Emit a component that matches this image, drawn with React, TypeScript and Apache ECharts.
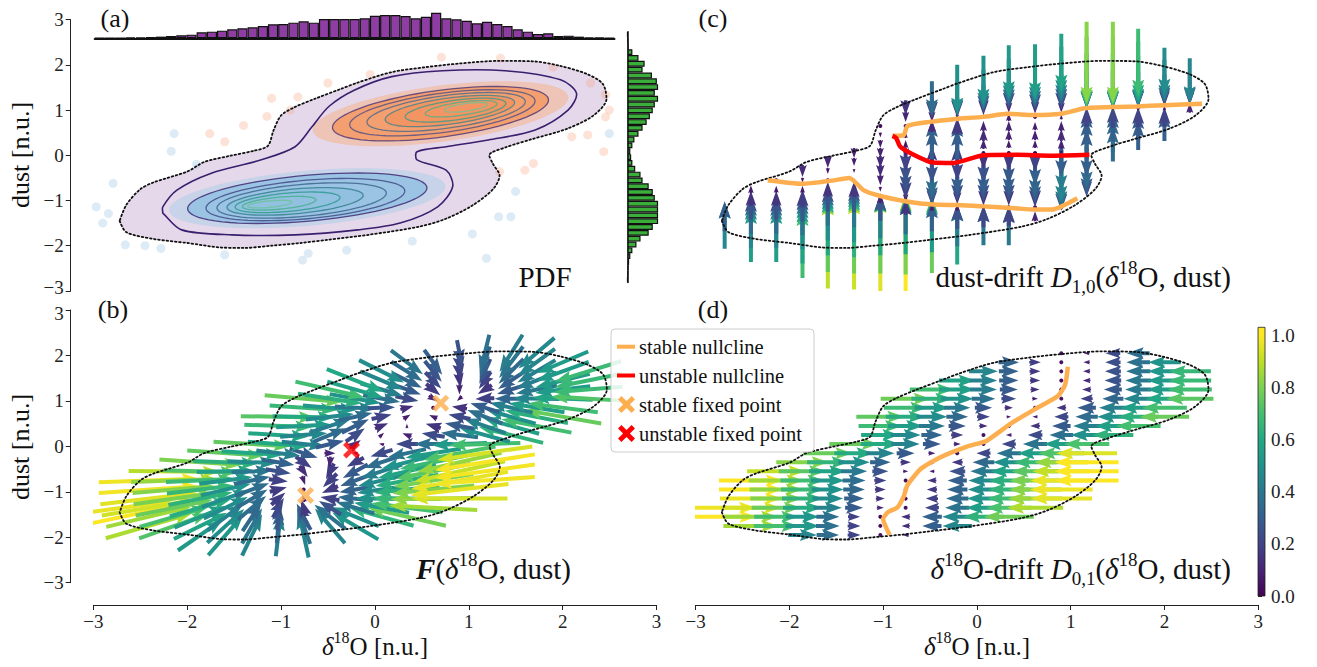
import React, { useEffect, useRef } from "react";
import * as echarts from "echarts";

const _ = null;
const FONT = "'Liberation Serif', 'DejaVu Serif', serif";

// ---------- grid of the drift field ----------
const X_COLS = [-2.69, -2.41, -2.14, -1.86, -1.59, -1.31, -1.03, -0.76, -0.48, -0.21, 0.07, 0.34, 0.62, 0.9, 1.17, 1.45, 1.72, 2.0, 2.27];
const Y_ROWS = [-1.95, -1.75, -1.55, -1.35, -1.15, -0.95, -0.75, -0.55, -0.35, -0.15, 0.05, 0.25, 0.45, 0.65, 0.85, 1.05, 1.25, 1.45, 1.65, 1.85, 2.05];

// delta18O drift D_{0,1} (normalised), one row per Y_ROWS entry
const U_ROWS = [
  [_, _, _, .45, .35, .2, .05, -.1, _, _, _, _, _, _, _, _, _, _, _],
  [_, .86, .7, .53, .37, .2, .03, -.13, -.3, -.46, _, _, _, _, _, _, _, _, _],
  [1, .85, .69, .52, .36, .19, .02, -.14, -.31, -.47, -.64, -.78, _, _, _, _, _, _, _],
  [.98, .94, .77, .61, .44, .28, .11, -.05, -.22, -.38, -.55, -.71, -.88, _, _, _, _, _, _],
  [_, .97, .81, .64, .48, .31, .14, -.02, -.19, -.35, -.52, -.68, -.85, -.96, _, _, _, _, _],
  [_, 1, .83, .67, .5, .34, .17, .01, -.16, -.32, -.49, -.65, -.82, -.98, _, _, _, _, _],
  [_, 1, .86, .69, .53, .36, .19, .03, -.14, -.3, -.47, -.63, -.8, -.97, -1, _, _, _, _],
  [_, _, .91, .74, .58, .41, .25, .08, -.08, -.25, -.41, -.58, -.74, -.91, -1, _, _, _, _],
  [_, _, _, .82, .65, .49, .32, .16, -.01, -.17, -.34, -.5, -.67, -.84, -1, _, _, _, _],
  [_, _, _, _, .77, .61, .44, .28, .11, -.05, -.22, -.38, -.55, -.72, -.95, _, _, _, _],
  [_, _, _, _, _, .77, .61, .44, .28, .11, -.05, -.22, -.38, -.55, -.71, _, _, _, _],
  [_, _, _, _, _, _, .6, .47, .33, .19, .05, -.09, -.23, -.37, -.5, -.64, _, _, _],
  [_, _, _, _, _, _, .68, .55, .41, .27, .13, 0, -.15, -.29, -.42, -.56, -.7, _, _],
  [_, _, _, _, _, _, .75, .62, .48, .34, .2, .07, -.08, -.22, -.35, -.49, -.63, -.77, _],
  [_, _, _, _, _, _, _, .68, .54, .41, .27, .13, -.01, -.15, -.29, -.43, -.56, -.7, _],
  [_, _, _, _, _, _, _, .78, .64, .51, .37, .23, .09, -.05, -.19, -.33, -.46, -.6, -.74],
  [_, _, _, _, _, _, _, _, .69, .56, .42, .28, .14, 0, -.14, -.28, -.41, -.55, -.69],
  [_, _, _, _, _, _, _, _, _, .57, .43, .3, .16, .02, -.12, -.26, -.4, -.54, -.67],
  [_, _, _, _, _, _, _, _, _, _, .45, .31, .17, .03, -.11, -.25, -.38, -.52, -.66],
  [_, _, _, _, _, _, _, _, _, _, _, .32, .18, .04, -.1, -.24, -.37, -.51, _],
  [_, _, _, _, _, _, _, _, _, _, _, _, _, .05, -.09, -.23, -.36, _, _],
];

// dust drift D_{1,0} (normalised)
const V_ROWS = [
  [_, _, _, .69, .9, .92, .95, 1, _, _, _, _, _, _, _, _, _, _, _],
  [_, .55, .55, .58, .75, .78, .78, .8, .77, .6, _, _, _, _, _, _, _, _, _],
  [.47, .45, .45, .48, .6, .64, .6, .58, .54, .42, .4, .4, _, _, _, _, _, _, _],
  [.3, .35, .35, .38, .48, .52, .44, .36, .3, .25, .22, .2, .1, _, _, _, _, _, _],
  [_, .25, .25, .28, .37, .4, .27, .15, .07, .07, .02, .02, -.03, 0, _, _, _, _, _],
  [_, .15, .15, .18, .26, .28, .1, -.08, -.15, -.12, -.15, -.15, -.18, -.25, _, _, _, _, _],
  [_, .08, .07, .07, .15, .16, -.05, -.2, -.3, -.25, -.25, -.25, -.28, -.38, -.15, _, _, _, _],
  [_, _, -.02, -.05, .03, .04, -.1, -.25, -.35, -.3, -.3, -.3, -.33, -.45, -.3, _, _, _, _],
  [_, _, _, -.12, -.06, -.04, -.12, -.25, -.25, -.2, -.25, -.28, -.3, -.42, -.35, _, _, _, _],
  [_, _, _, _, -.12, -.08, -.12, -.2, 0, .02, -.15, -.18, -.2, -.3, -.3, _, _, _, _],
  [_, _, _, _, _, -.1, -.1, -.1, .15, .18, .03, 0, 0, -.05, -.05, _, _, _, _],
  [_, _, _, _, _, _, -.08, .08, .3, .3, .1, .08, .08, .1, .3, .35, _, _, _],
  [_, _, _, _, _, _, -.05, .06, .3, .3, .12, .1, .1, .12, .32, .35, .3, _, _],
  [_, _, _, _, _, _, -.03, -.03, .12, .17, .1, .1, .08, .1, .3, .3, .28, .3, _],
  [_, _, _, _, _, _, _, -.1, -.1, -.05, .02, .08, 0, .05, .2, .22, .2, .2, _],
  [_, _, _, _, _, _, _, -.15, -.22, -.2, -.15, -.1, -.12, -.1, -.02, 0, .02, .05, .1],
  [_, _, _, _, _, _, _, _, -.35, -.35, -.28, -.22, -.25, -.22, -.2, -.2, -.18, -.15, -.12],
  [_, _, _, _, _, _, _, _, _, -.5, -.4, -.33, -.36, -.32, -.38, -.38, -.35, -.3, -.3],
  [_, _, _, _, _, _, _, _, _, _, -.5, -.43, -.46, -.42, -.55, -.55, -.5, -.42, -.45],
  [_, _, _, _, _, _, _, _, _, _, _, -.53, -.55, -.5, -.7, -.7, -.6, -.48, _],
  [_, _, _, _, _, _, _, _, _, _, _, _, _, -.58, -.82, -.82, -.68, _, _],
];
// relative weight of the dust component in the combined field F
const B_V_WEIGHT = 0.45;

// ---------- density outline, contours ----------
const MASK_OUTLINE = [
  [-2.72, -1.45], [-2.65, -1.7], [-2.36, -1.85], [-2.0, -1.94], [-1.64, -2.04], [-1.4, -2.05], [-1.1, -2.0],
  [-0.79, -1.94], [-0.5, -1.87], [-0.07, -1.76], [0.47, -1.58], [0.75, -1.41], [1.04, -1.11], [1.26, -0.75],
  [1.33, -0.45], [1.26, -0.19], [1.22, 0.0], [1.4, 0.18], [1.68, 0.36], [2.04, 0.58], [2.33, 0.88], [2.47, 1.25],
  [2.43, 1.58], [2.26, 1.8], [1.97, 1.98], [1.68, 2.08], [1.33, 2.09], [0.9, 2.03], [0.54, 1.95], [0.18, 1.84],
  [-0.18, 1.61], [-0.36, 1.47], [-0.64, 1.25], [-0.86, 1.06], [-1.0, 0.88], [-1.08, 0.55], [-1.14, 0.21],
  [-1.29, 0.1], [-1.54, -0.01], [-1.82, -0.15], [-2.0, -0.36], [-2.36, -0.6], [-2.5, -0.75], [-2.65, -1.1], [-2.72, -1.45],
];
const PEANUT = [
  [-2.26, -1.28], [-2.06, -1.65], [-1.52, -1.76], [-0.85, -1.76], [-0.18, -1.65], [0.27, -1.5], [0.67, -1.14],
  [0.83, -0.69], [0.76, -0.33], [0.45, -0.1], [0.45, 0.08], [0.76, 0.19], [1.21, 0.34], [1.71, 0.56], [2.06, 1.0],
  [2.15, 1.37], [1.98, 1.67], [1.39, 1.87], [0.72, 1.87], [0.18, 1.74], [-0.22, 1.44], [-0.49, 1.08], [-0.67, 0.63],
  [-0.85, 0.19], [-1.21, -0.1], [-1.75, -0.4], [-2.11, -0.77], [-2.26, -1.14], [-2.26, -1.28],
];
// contour levels (outer -> inner): centres, semi-axes, tilt (degrees, data space)
const GS_CX = [-0.72, -0.74, -0.78, -0.85, -0.93, -1.02, -1.12];
const GS_CY = [-0.95, -0.98, -1.0, -1.02, -1.04, -1.06, -1.08];
const GS_A = [1.3, 1.08, 0.92, 0.74, 0.57, 0.4, 0.24];
const GS_B = [0.5, 0.42, 0.35, 0.27, 0.2, 0.13, 0.07];
const GS_TILT = 12;
const GI_CX = [0.7, 0.72, 0.76, 0.8, 0.86, 0.92, 0.97];
const GI_CY = [0.92, 0.94, 0.96, 0.98, 1.0, 1.03, 1.06];
const GI_A = [1.2, 1.03, 0.88, 0.72, 0.56, 0.4, 0.24];
const GI_B = [0.5, 0.42, 0.35, 0.28, 0.21, 0.14, 0.08];
const GI_TILT = 18;
const LEVEL_COLORS = ["#3e2c74", "#414a88", "#3d668d", "#35808e", "#2f9a8b", "#45b08a", "#6cc39a"];

const GI_POINTS = [
  [-1.1, 1.26], [-0.82, 1.29], [-1.15, 0.86], [-1.4, 0.66], [-1.76, 0.48], [-0.05, 1.79], [0.71, 2.17], [1.34, 2.15],
  [2.46, 1.34], [2.5, 1.0], [2.46, 0.85], [2.27, 0.45], [2.1, 0.41], [1.6, -0.33], [1.33, -0.36], [2.44, 0.08],
  [1.69, -0.18], [-1.6, 0.3], [-0.5, 1.6], [1.9, 1.95], [2.3, 1.6], [-0.9, 1.0],
];
const GS_POINTS = [
  [2.5, 0.48], [1.45, -1.36], [1.32, -1.36], [1.04, -1.74], [1.19, -2.28], [-0.77, -2.32], [-0.71, -2.17],
  [-2.66, -1.98], [-2.84, -1.29], [-2.97, -1.14], [-2.79, -0.62], [-2.45, -2.0], [-2.28, -2.06], [-2.14, 0.48],
  [-2.17, 0.09], [-1.9, -0.2], [-0.3, -2.1], [0.4, -1.9], [-2.9, -1.5], [-1.6, -2.2], [1.5, -0.8],
];

// marginal histograms (bar heights, left->right and top->bottom)
const TOP_HIST = [1, 1, 1, 2, 3, 4, 5, 7, 9, 11, 18, 20, 23, 27, 30, 33, 37, 42, 43, 47, 51, 47, 58, 58, 58, 58, 60, 68, 70, 70, 67, 60, 65, 77, 60, 57, 53, 45, 50, 43, 37, 27, 20, 13, 15, 7, 8, 5, 3, 2, 1];
const RIGHT_HIST = [0, 1, 3, 12, 27, 42, 37, 60, 72, 75, 67, 75, 67, 62, 55, 47, 37, 27, 17, 12, 7, 9, 12, 19, 32, 37, 52, 62, 67, 75, 75, 75, 75, 62, 52, 32, 22, 12, 7, 4, 2, 1, 0];

// nullclines
const NULL_D_STABLE = [[-0.93, -1.95], [-1.0, -1.6], [-0.95, -1.45], [-0.85, -1.35], [-0.78, -1.1], [-0.74, -0.85], [-0.6, -0.5], [-0.4, -0.25], [-0.1, 0.0], [0.1, 0.12], [0.36, 0.5], [0.62, 0.82], [0.86, 1.1], [0.94, 1.35], [0.97, 1.75]];
const NULL_C_UPPER = [[-0.9, 0.43], [-0.78, 0.45], [-0.74, 0.65], [-0.5, 0.74], [-0.25, 0.8], [0.07, 0.85], [0.33, 0.92], [0.6, 0.89], [0.9, 0.92], [1.15, 1.04], [1.5, 1.07], [1.7, 1.08], [2.0, 1.11], [2.4, 1.14]];
const NULL_C_UNSTABLE = [[-0.9, 0.43], [-0.86, 0.38], [-0.82, 0.2], [-0.68, 0.02], [-0.47, -0.16], [-0.25, -0.17], [0.07, 0.0], [0.43, 0.01], [0.79, -0.01], [1.2, 0.01]];
const NULL_C_LOWER = [[-2.23, -0.55], [-1.86, -0.63], [-1.55, -0.56], [-1.36, -0.5], [-1.21, -0.77], [-1.03, -0.9], [-0.75, -1.02], [-0.46, -1.09], [-0.2, -1.1], [0.07, -1.13], [0.4, -1.17], [0.61, -1.2], [0.8, -1.2], [1.07, -0.95]];
const FIXED_STABLE = [[-0.74, -1.08], [0.7, 0.95]];
const FIXED_UNSTABLE = [[-0.25, -0.08]];
const CBAR_TICKS = [0, 0.2, 0.4, 0.6, 0.8, 1.0];
const CBAR_MAX = 1.03;

const ORANGE = "#fdae4e";
const RED = "#ff0000";
const VIRIDIS = ["#440154", "#482475", "#414487", "#355f8d", "#2a788e", "#21918c", "#22a884", "#44bf70", "#7ad151", "#bddf26", "#fde725"];

function hexToRgb(h: string) {
  return [parseInt(h.slice(1, 3), 16), parseInt(h.slice(3, 5), 16), parseInt(h.slice(5, 7), 16)];
}
function viridis(t: number) {
  t = Math.max(0, Math.min(1, t));
  const f = t * 10;
  const i = Math.min(9, Math.floor(f));
  const r = f - i;
  const a = hexToRgb(VIRIDIS[i]);
  const b = hexToRgb(VIRIDIS[i + 1]);
  const c = a.map((v, k) => Math.round(v + (b[k] - v) * r));
  return `rgb(${c[0]},${c[1]},${c[2]})`;
}

type ArrowStyle = { w: number; hl: number; hal: number; hw: number };
function makeArrowRender(scale: number, st: ArrowStyle) {
  return (_p: any, api: any) => {
    const x = api.value(0), y = api.value(1), u = api.value(2), v = api.value(3), m = api.value(4);
    const c = api.coord([x, y]);
    const color = viridis(m);
    const L = Math.hypot(u, v) * scale;
    const { w, hl, hal, hw } = st;
    if (L < w) {
      return { type: "circle", shape: { cx: c[0], cy: c[1], r: w / 2 }, style: { fill: color } };
    }
    let pts: number[][];
    if (L < hl) {
      const s = L / hl;
      pts = [[0, -w / 2], [hl - hal, -w / 2], [0, -hw / 2], [hl, 0], [0, hw / 2], [hl - hal, w / 2], [0, w / 2]].map((p) => [p[0] * s, p[1] * s]);
    } else {
      pts = [[0, -w / 2], [L - hal, -w / 2], [L - hl, -hw / 2], [L, 0], [L - hl, hw / 2], [L - hal, w / 2], [0, w / 2]];
    }
    const ang = Math.atan2(-v, u);
    const cs = Math.cos(ang), sn = Math.sin(ang);
    const out = pts.map(([px, py]) => {
      const qx = px - L / 2;
      return [c[0] + qx * cs - py * sn, c[1] + qx * sn + py * cs];
    });
    return { type: "polygon", shape: { points: out }, style: { fill: color } };
  };
}

function fieldItems(kind: "b" | "c" | "d") {
  const items: number[][] = [];
  let fmax = 0;
  Y_ROWS.forEach((_y, j) => X_COLS.forEach((_x, i) => {
    const u = U_ROWS[j][i], v = V_ROWS[j][i];
    if (u == null || v == null) return;
    fmax = Math.max(fmax, Math.hypot(u, v * B_V_WEIGHT));
  }));
  Y_ROWS.forEach((y, j) => X_COLS.forEach((x, i) => {
    const u = U_ROWS[j][i], v = V_ROWS[j][i];
    if (u == null || v == null) return;
    if (kind === "c") items.push([x, y, 0, v, Math.abs(v)]);
    else if (kind === "d") items.push([x, y, u, 0, Math.abs(u)]);
    else {
      const vv = v * B_V_WEIGHT;
      items.push([x, y, u, vv, Math.hypot(u, vv) / fmax]);
    }
  }));
  return items;
}

function ellipsePts(api: any, cx: number, cy: number, a: number, b: number, tilt: number) {
  const th = (tilt * Math.PI) / 180;
  const pts: number[][] = [];
  for (let k = 0; k < 72; k++) {
    const t = (k / 72) * 2 * Math.PI;
    const ex = a * Math.cos(t), ey = b * Math.sin(t);
    pts.push(api.coord([cx + ex * Math.cos(th) - ey * Math.sin(th), cy + ex * Math.sin(th) + ey * Math.cos(th)]));
  }
  return pts;
}

const tickFmt = (v: number) => (v < 0 ? "\u2212" + Math.abs(v) : String(v));
const TICK_SIZE = 19;
const tickBase = { fontFamily: FONT, fontSize: TICK_SIZE, color: "#222" };
// "up"/"down" nudge the two labels that sit next to each other between panels (a) and (b)
const tickRich = {
  t: tickBase,
  up: { ...tickBase, padding: [0, 0, 7, 0] },
  down: { ...tickBase, padding: [7, 0, 0, 0] },
};

function richStyles(size: number) {
  const sm = Math.round(size * 0.64);
  const base = { fontFamily: FONT, fill: "#111", color: "#111" };
  return {
    t: { ...base, fontSize: size, verticalAlign: "middle", lineHeight: size * 1.3 },
    i: { ...base, fontSize: size, fontStyle: "italic", verticalAlign: "middle", lineHeight: size * 1.3 },
    bi: { ...base, fontSize: size, fontStyle: "italic", fontWeight: "bold", verticalAlign: "middle", lineHeight: size * 1.3 },
    sup: { ...base, fontSize: sm, verticalAlign: "top", lineHeight: sm },
    sub: { ...base, fontSize: sm, verticalAlign: "bottom", lineHeight: sm },
  };
}
function richText(text: string, x: number, y: number, size: number, align: string, rotation = 0, z = 1) {
  return {
    type: "text",
    x, y, rotation, z,
    silent: true,
    style: {
      text, rich: richStyles(size), align, textAlign: align, verticalAlign: "middle", textVerticalAlign: "middle",
      font: `${size}px ${FONT}`, fontFamily: FONT, fontSize: size, fill: "#111",
    },
  };
}
function plainText(text: string, x: number, y: number, size: number, align = "center", z = 1) {
  return richText(`{t|${text}}`, x, y, size, align, 0, z);
}
function crossPts(cx: number, cy: number, s: number) {
  const k = s / 10;
  const base = [[2, 0], [5, 3], [8, 0], [10, 2], [7, 5], [10, 8], [8, 10], [5, 7], [2, 10], [0, 8], [3, 5], [0, 2]];
  return base.map(([px, py]) => [cx + (px - 5) * k, cy + (py - 5) * k]);
}
const X_SYMBOL = "path://M2,0 L5,3 L8,0 L10,2 L7,5 L10,8 L8,10 L5,7 L2,10 L0,8 L3,5 L0,2 Z";

function buildOption() {
  const grids = [
    { left: 93.4, top: 19.7, width: 522.5, height: 271.2 },
    { left: 94.7, top: 12.7, width: 519.8, height: 25.6 },
    { left: 627.5, top: 31.7, width: 31, height: 250.7 },
    { left: 93.4, top: 310, width: 563.2, height: 272.7 },
    { left: 695.6, top: 19.7, width: 562.6, height: 271.2 },
    { left: 695.6, top: 310, width: 562.6, height: 272.7 },
    { left: 1258, top: 327.3, width: 7, height: 268.7 },
  ].map((g) => ({ ...g, containLabel: false, outerBoundsMode: "none", show: false }));

  const hidden = { show: false };
  const axisLabel = (margin: number, fmt: (v: number) => string, extra: any = {}) => ({
    show: true, margin, fontFamily: FONT, fontSize: TICK_SIZE, color: "#222",
    formatter: fmt, rich: tickRich, ...extra,
  });
  const visX = (gi: number) => ({
    type: "value", gridIndex: gi, min: -3, max: 3, interval: 1, offset: 22.3,
    axisLine: { show: true, onZero: false, lineStyle: { color: "#222", width: 1 } },
    axisTick: { show: true, length: 5, lineStyle: { color: "#222" } },
    axisLabel: axisLabel(7, (v: number) => `{t|${tickFmt(v)}}`),
    splitLine: hidden,
  });
  const visY = (gi: number, nudge: "up" | "down", at: number) => ({
    type: "value", gridIndex: gi, min: -3, max: 3, interval: 1, offset: 22.7,
    axisLine: { show: true, onZero: false, lineStyle: { color: "#222", width: 1 } },
    axisTick: { show: true, length: 5, lineStyle: { color: "#222" } },
    axisLabel: axisLabel(7, (v: number) => `{${v === at ? nudge : "t"}|${tickFmt(v)}}`),
    splitLine: hidden,
  });
  const hidX = (gi: number, min = -3, max = 3) => ({ type: "value", gridIndex: gi, min, max, show: false, splitLine: hidden });
  const hidY = (gi: number, min = -3, max = 3) => ({ type: "value", gridIndex: gi, min, max, show: false, splitLine: hidden });

  const xAxis = [
    hidX(0, -3, 2.57),
    { type: "category", gridIndex: 1, data: TOP_HIST.map((_v, i) => String(i)), boundaryGap: true,
      axisLine: { show: true, lineStyle: { color: "#111", width: 2 } }, axisTick: hidden, axisLabel: hidden, splitLine: hidden },
    hidX(2, 0, 76),
    visX(3),
    hidX(4),
    visX(5),
    hidX(6, 0, 1),
  ];
  const yAxis = [
    visY(0, "up", -3),
    hidY(1, 0, 77),
    { type: "category", gridIndex: 2, inverse: true, data: RIGHT_HIST.map((_v, i) => String(i)), boundaryGap: true,
      axisLine: { show: true, lineStyle: { color: "#111", width: 1.5 } }, axisTick: hidden, axisLabel: hidden, splitLine: hidden },
    visY(3, "down", 3),
    hidY(4),
    hidY(5),
    { type: "value", gridIndex: 6, position: "right", min: 0, max: CBAR_MAX,
      axisLine: hidden,
      axisTick: { show: true, length: 4, lineStyle: { color: "#222" }, customValues: CBAR_TICKS },
      axisLabel: axisLabel(6, (v: number) => `{t|${v.toFixed(1)}}`, { customValues: CBAR_TICKS }),
      splitLine: hidden },
  ];

  const arrowStyle: ArrowStyle = { w: 4, hl: 17, hal: 15, hw: 12 };
  const arrowSeries = (gi: number, kind: "b" | "c" | "d", scale: number) => ({
    type: "custom", xAxisIndex: gi, yAxisIndex: gi, clip: true, silent: true, z: 2,
    dimensions: ["x", "y", "u", "v", "m"], encode: { x: 0, y: 1 },
    data: fieldItems(kind), renderItem: makeArrowRender(scale, arrowStyle),
  });
  const outline = (gi: number) => ({
    type: "line", xAxisIndex: gi, yAxisIndex: gi, data: MASK_OUTLINE, symbol: "none", smooth: 0.3, silent: true, z: 3,
    lineStyle: { color: "#111", width: 1.8, type: [1.6, 2.6], cap: "round" },
  });
  const nullLine = (gi: number, data: number[][], color: string) => ({
    type: "line", xAxisIndex: gi, yAxisIndex: gi, data, symbol: "none", smooth: 0.2, silent: true, z: 4,
    lineStyle: { color, width: 4.5 },
  });

  const series: any[] = [
    // panel (a)
    {
      type: "custom", xAxisIndex: 0, yAxisIndex: 0, data: [[0, 0]], silent: true, z: 1, clip: true,
      renderItem: (_p: any, api: any) => ({
        type: "group",
        children: [
          { type: "polygon", shape: { points: MASK_OUTLINE.map((q) => api.coord(q)), smooth: 0.3 }, style: { fill: "#e5d8eb" } },
          { type: "polygon", shape: { points: ellipsePts(api, GS_CX[0], GS_CY[0], 1.5, 0.6, GS_TILT) }, style: { fill: "rgba(170,205,230,0.5)" } },
          { type: "polygon", shape: { points: ellipsePts(api, GI_CX[0], GI_CY[0], 1.42, 0.6, GI_TILT) }, style: { fill: "rgba(248,175,130,0.5)" } },
          { type: "polygon", shape: { points: ellipsePts(api, GS_CX[0], GS_CY[0], GS_A[0], GS_B[0], GS_TILT) }, style: { fill: "rgba(140,190,225,0.75)" } },
          { type: "polygon", shape: { points: ellipsePts(api, GI_CX[0], GI_CY[0], GI_A[0], GI_B[0], GI_TILT) }, style: { fill: "rgba(245,150,95,0.8)" } },
          { type: "polygon", shape: { points: ellipsePts(api, GS_CX[3], GS_CY[3], GS_A[3], GS_B[3], GS_TILT) }, style: { fill: "rgba(130,185,222,0.35)" } },
          { type: "polygon", shape: { points: ellipsePts(api, GI_CX[3], GI_CY[3], GI_A[3], GI_B[3], GI_TILT) }, style: { fill: "rgba(242,130,75,0.35)" } },
        ],
      }),
    },
    { type: "scatter", xAxisIndex: 0, yAxisIndex: 0, data: GI_POINTS, symbolSize: 9, silent: true, z: 2, itemStyle: { color: "#f7a07a", opacity: 0.3 } },
    { type: "scatter", xAxisIndex: 0, yAxisIndex: 0, data: GS_POINTS, symbolSize: 9, silent: true, z: 2, itemStyle: { color: "#9cc7e3", opacity: 0.35 } },
    {
      type: "custom", xAxisIndex: 0, yAxisIndex: 0, data: [[0, 0]], silent: true, z: 3, clip: true,
      renderItem: (_p: any, api: any) => {
        const children: any[] = [
          { type: "polygon", shape: { points: PEANUT.map((q) => api.coord(q)), smooth: 0.3 }, style: { fill: "none", stroke: "#3b1f6e", lineWidth: 1.6 } },
        ];
        GS_A.forEach((a, k) => children.push({ type: "polygon", shape: { points: ellipsePts(api, GS_CX[k], GS_CY[k], a, GS_B[k], GS_TILT) }, style: { fill: "none", stroke: LEVEL_COLORS[k], lineWidth: 1.3, opacity: 0.85 } }));
        GI_A.forEach((a, k) => children.push({ type: "polygon", shape: { points: ellipsePts(api, GI_CX[k], GI_CY[k], a, GI_B[k], GI_TILT) }, style: { fill: "none", stroke: LEVEL_COLORS[k], lineWidth: 1.3, opacity: 0.75 } }));
        return { type: "group", children };
      },
    },
    outline(0),
    { type: "bar", xAxisIndex: 1, yAxisIndex: 1, data: TOP_HIST, barCategoryGap: "0%", silent: true, itemStyle: { color: "#8e3ea2", borderColor: "#111", borderWidth: 1.2 } },
    { type: "bar", xAxisIndex: 2, yAxisIndex: 2, data: RIGHT_HIST, barCategoryGap: "0%", silent: true, itemStyle: { color: "#3aad3a", borderColor: "#111", borderWidth: 1.2 } },
    // panel (b)
    arrowSeries(3, "b", 100),
    outline(3),
    { type: "scatter", xAxisIndex: 3, yAxisIndex: 3, data: FIXED_STABLE, symbol: X_SYMBOL, symbolSize: 17, silent: true, z: 5, itemStyle: { color: ORANGE } },
    { type: "scatter", xAxisIndex: 3, yAxisIndex: 3, data: FIXED_UNSTABLE, symbol: X_SYMBOL, symbolSize: 17, silent: true, z: 5, itemStyle: { color: RED } },
    // panel (c)
    arrowSeries(4, "c", 100),
    outline(4),
    nullLine(4, NULL_C_UPPER, ORANGE),
    nullLine(4, NULL_C_LOWER, ORANGE),
    nullLine(4, NULL_C_UNSTABLE, RED),
    // panel (d)
    arrowSeries(5, "d", 64),
    outline(5),
    nullLine(5, NULL_D_STABLE, ORANGE),
    // colorbar
    {
      type: "custom", xAxisIndex: 6, yAxisIndex: 6, data: [[0, 0]], silent: true, z: 2,
      renderItem: (_p: any, api: any) => {
        const p0 = api.coord([0, 0]);
        const p1 = api.coord([1, CBAR_MAX]);
        const stops = VIRIDIS.map((c, k) => ({ offset: (k / 10) / CBAR_MAX, color: c }));
        stops.push({ offset: 1, color: VIRIDIS[10] });
        return {
          type: "rect",
          shape: { x: p0[0], y: p1[1], width: p1[0] - p0[0], height: p0[1] - p1[1] },
          style: { fill: new echarts.graphic.LinearGradient(0, 1, 0, 0, stops), stroke: "#222", lineWidth: 0.8 },
        };
      },
    },
  ];

  const legendY = [346.7, 375.5, 404.5, 433.5];
  const legendLabels = ["stable nullcline", "unstable nullcline", "stable fixed point", "unstable fixed point"];
  const graphic: any[] = [
    plainText("(a)", 115, 18, 26),
    plainText("(b)", 113, 309, 26),
    plainText("(c)", 713, 18, 26),
    plainText("(d)", 713, 309, 26),
    plainText("GI", 425, 113, 31),
    plainText("GS", 305, 200, 31),
    plainText("PDF", 545, 277, 29),
    richText("{bi|F}{t|(}{i|\u03b4}{sup|18}{t|O, dust)}", 571, 569, 29, "right"),
    richText("{t|dust-drift }{i|D}{sub|1,0}{t|(}{i|\u03b4}{sup|18}{t|O, dust)}", 1231, 277, 29, "right"),
    richText("{i|\u03b4}{sup|18}{t|O-drift }{i|D}{sub|0,1}{t|(}{i|\u03b4}{sup|18}{t|O, dust)}", 1231, 569, 29, "right"),
    richText("{i|\u03b4}{sup|18}{t|O [n.u.]}", 375, 646, 25, "center"),
    richText("{i|\u03b4}{sup|18}{t|O [n.u.]}", 977, 646, 25, "center"),
    richText("{t|dust [n.u.]}", 20, 155, 26, "center", Math.PI / 2),
    richText("{t|dust [n.u.]}", 20, 447, 26, "center", Math.PI / 2),
    { type: "rect", shape: { x: 611, y: 329, width: 203, height: 123, r: 4 }, style: { fill: "rgba(255,255,255,0.85)", stroke: "#cccccc", lineWidth: 1 }, z: 10 },
  ];
  legendLabels.forEach((t, k) => {
    graphic.push(plainText(t, 639, legendY[k], 20.5, "left", 11));
  });
  graphic.push({ type: "line", shape: { x1: 617, y1: legendY[0], x2: 635, y2: legendY[0] }, style: { stroke: ORANGE, lineWidth: 4 }, z: 11 });
  graphic.push({ type: "line", shape: { x1: 617, y1: legendY[1], x2: 635, y2: legendY[1] }, style: { stroke: RED, lineWidth: 4 }, z: 11 });
  graphic.push({ type: "polygon", shape: { points: crossPts(626.5, legendY[2], 17) }, style: { fill: ORANGE }, z: 11 });
  graphic.push({ type: "polygon", shape: { points: crossPts(626.5, legendY[3], 17) }, style: { fill: RED }, z: 11 });

  return {
    animation: false,
    backgroundColor: "#ffffff",
    textStyle: { fontFamily: FONT },
    grid: grids,
    xAxis,
    yAxis,
    series,
    graphic,
  };
}

export default function App() {
  const ref = useRef<HTMLDivElement>(null);
  useEffect(() => {
    if (!ref.current) return;
    const chart = echarts.init(ref.current, null, { renderer: "svg" });
    chart.setOption(buildOption() as any);
    return () => chart.dispose();
  }, []);
  return <div ref={ref} style={{ position: "fixed", left: 0, top: 0, width: 1317, height: 667, background: "#fff" }} />;
}
